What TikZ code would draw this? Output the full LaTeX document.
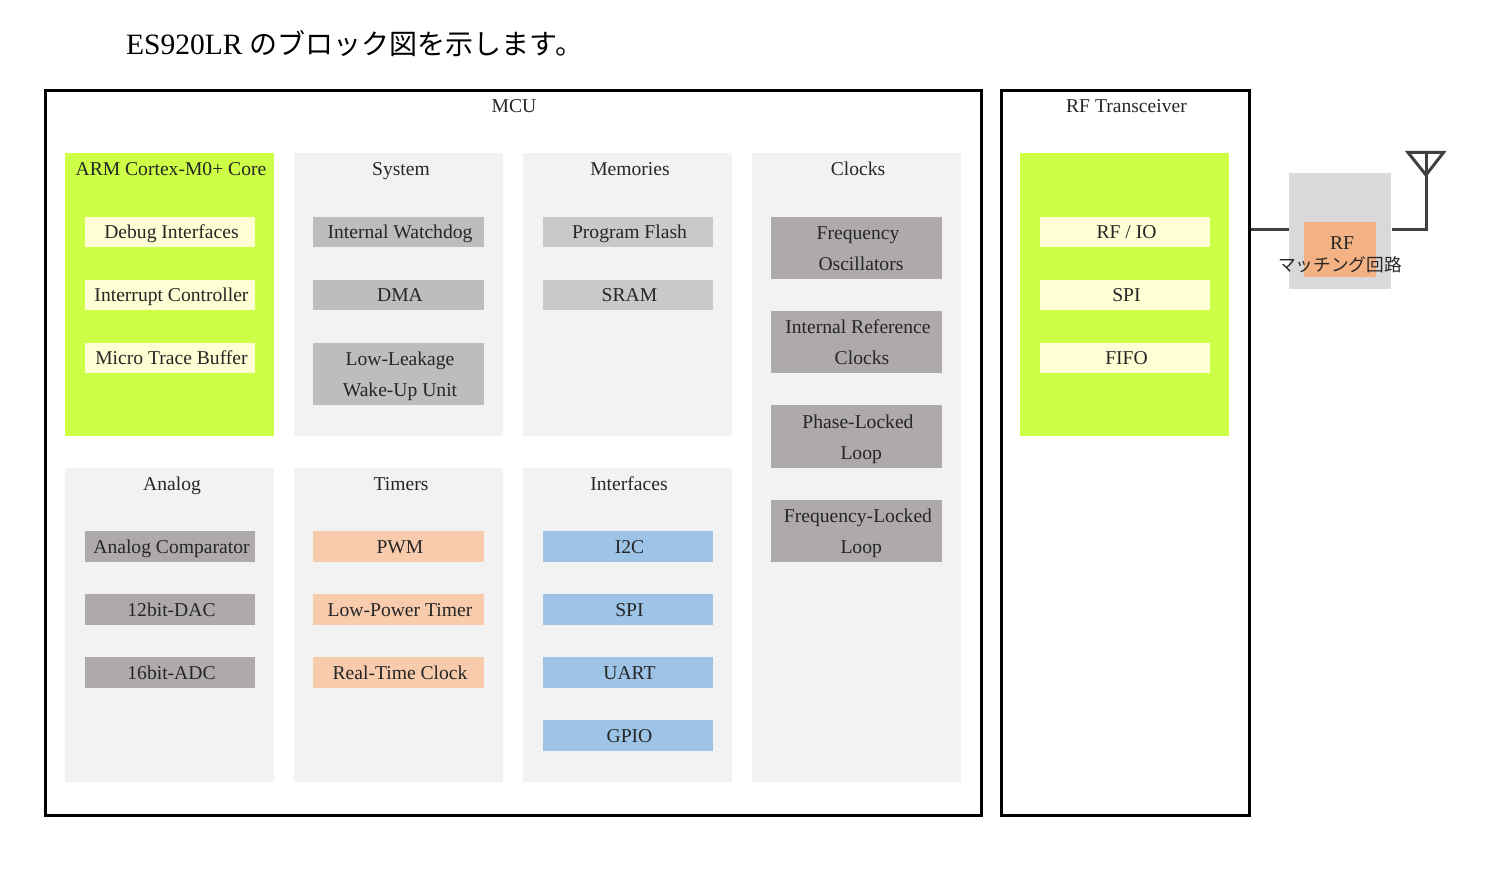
\documentclass[tikz,border=0pt]{standalone}
\usepackage{fontspec}
\setmainfont{Liberation Serif}
\newfontfamily\cjk{Noto Sans CJK JP}
\definecolor{cgreen}{HTML}{CCFF45}
\definecolor{cyellow}{HTML}{FFFFD5}
\definecolor{cpanel}{HTML}{F2F2F2}
\definecolor{csys}{HTML}{BDBDBD}
\definecolor{cmem}{HTML}{C9C9C9}
\definecolor{cdark}{HTML}{AEAAAA}
\definecolor{ctim}{HTML}{F8CBAD}
\definecolor{cint}{HTML}{9DC3E6}
\definecolor{cmatch}{HTML}{D9D9D9}
\definecolor{corange}{HTML}{F4B183}
\definecolor{cwire}{HTML}{404040}
\newcommand{\LL}{\hspace*{3pt}\rule[-4.5pt]{0pt}{22.5pt}}
\tikzset{
  x=1pt,y=-1pt,
  lbl/.style={font=\fontsize{19.6}{31}\selectfont,text=black!85,inner sep=0pt,align=center},
  frame/.style={draw=black,line width=3pt,fill=white},
  wire/.style={draw=cwire,line width=3pt,line join=miter},
}
% \rbox{name}{x0}{y0}{x1}{y1}{fill}
\newcommand{\rbox}[6]{\path[fill=#6] (#2,#3) rectangle (#4,#5);
  \coordinate (#1) at ({(#2+#4)/2},{(#3+#5)/2});}
% \ibox{name}{x0}{y0}{x1}{y1}{fill}{text}
\newcommand{\ibox}[7]{\node[lbl,fill=#6,minimum width={(#4-#2)*1pt},minimum height={(#5-#3)*1pt}] (#1) at ({(#2+#4)/2},{(#3+#5)/2}) {\LL #7};}
\begin{document}
\begin{tikzpicture}
\useasboundingbox (0,0) rectangle (1486,882);
\node[anchor=base west,inner sep=0pt,font=\fontsize{29.5}{29}\selectfont] (title) at (126,55) {ES920LR {\cjk\fontsize{28}{28}\selectfont のブロック図を示します。}};
\node[frame,minimum width=936pt,minimum height=725pt] (mcu) at (513,452.8) {};
\node[frame,minimum width=248pt,minimum height=725pt] (rft) at (1125,452.8) {};
\node[lbl] (mcut) at (512.5,106) {\LL MCU};
\node[lbl] (rftt) at (1125,106) {\LL RF Transceiver};
% panels
\rbox{p1}{65}{153}{274}{436}{cgreen}
\rbox{p2}{294}{153}{503}{436}{cpanel}
\rbox{p3}{523}{153}{732}{436}{cpanel}
\rbox{p4}{752}{153}{961}{782}{cpanel}
\rbox{p5}{65}{468}{274}{782}{cpanel}
\rbox{p6}{294}{468}{503}{782}{cpanel}
\rbox{p7}{523}{468}{732}{782}{cpanel}
\rbox{p8}{1020}{153}{1229}{436}{cgreen}
% panel titles
\node[lbl] (t1) at (169.5,169) {\LL ARM Cortex-M0+ Core};
\node[lbl] (t2) at (399.5,169) {\LL System};
\node[lbl] (t3) at (628.5,169) {\LL Memories};
\node[lbl] (t4) at (856.5,169) {\LL Clocks};
\node[lbl] (t5) at (170.5,484) {\LL Analog};
\node[lbl] (t6) at (399.5,484) {\LL Timers};
\node[lbl] (t7) at (627.5,484) {\LL Interfaces};
% core
\ibox{a1}{85}{217}{255}{247.5}{cyellow}{Debug Interfaces}
\ibox{a2}{85}{280}{255}{310.5}{cyellow}{Interrupt Controller}
\ibox{a3}{85}{343}{255}{373.5}{cyellow}{Micro Trace Buffer}
% system
\ibox{b1}{313}{217}{484}{247.5}{csys}{Internal Watchdog}
\ibox{b2}{313}{280}{484}{310.5}{csys}{DMA}
\ibox{b3}{313}{343}{484}{405}{csys}{Low-Leakage\\\LL Wake-Up Unit}
% memories
\ibox{c1}{543}{217}{713}{247.5}{cmem}{Program Flash}
\ibox{c2}{543}{280}{713}{310.5}{cmem}{SRAM}
% clocks
\ibox{d1}{771}{217}{942}{279}{cdark}{Frequency\\\LL\hspace*{1pt} Oscillators}
\ibox{d2}{771}{311}{942}{373.5}{cdark}{Internal Reference\\\LL\hspace*{3pt} Clocks}
\ibox{d3}{771}{405.5}{942}{468}{cdark}{Phase-Locked\\\LL\hspace*{1.5pt} Loop}
\ibox{d4}{771}{500}{942}{562}{cdark}{Frequency-Locked\\\LL\hspace*{1.5pt} Loop}
% analog
\ibox{e1}{85}{531}{255}{562}{cdark}{Analog Comparator}
\ibox{e2}{85}{594}{255}{625}{cdark}{12bit-DAC}
\ibox{e3}{85}{657}{255}{688}{cdark}{16bit-ADC}
% timers
\ibox{f1}{313}{531}{484}{562}{ctim}{PWM}
\ibox{f2}{313}{594}{484}{625}{ctim}{Low-Power Timer}
\ibox{f3}{313}{657}{484}{688}{ctim}{Real-Time Clock}
% interfaces
\ibox{g1}{543}{531}{713}{562}{cint}{I2C}
\ibox{g2}{543}{594}{713}{625}{cint}{SPI}
\ibox{g3}{543}{657}{713}{688}{cint}{UART}
\ibox{g4}{543}{720}{713}{751}{cint}{GPIO}
% rf
\ibox{h1}{1040}{217}{1210}{247.5}{cyellow}{RF / IO}
\ibox{h2}{1040}{280}{1210}{310.5}{cyellow}{SPI}
\ibox{h3}{1040}{343}{1210}{373.5}{cyellow}{FIFO}
% matching
\node[fill=cmatch,inner sep=0pt,minimum width=102pt,minimum height=116pt] (match) at (1340.3,231) {};
\node[fill=corange,inner sep=0pt,minimum width=72pt,minimum height=55pt] (rfo) at (1340.3,249.5) {};
\node[lbl] (rft1) at (1340.5,243) {\LL RF};
\node[lbl,font=\cjk\fontsize{17.7}{18}\selectfont] (rft2) at (1340,265) {マッチング回路};
% wires
\coordinate (antbase) at (1426,175);
\coordinate (antl) at (1408,152.5);
\coordinate (antr) at (1443.5,152.5);
\coordinate (anttop) at (1426,152.5);
\draw[wire] (rft.east |- 0,229.5) -- (match.west |- 0,229.5);
\draw[wire] (match.east |- 0,229.5) -- (antbase |- 0,229.5) -- (anttop);
\draw[wire] (antl) -- (antr) -- (antbase) -- cycle;
\end{tikzpicture}
\end{document}
